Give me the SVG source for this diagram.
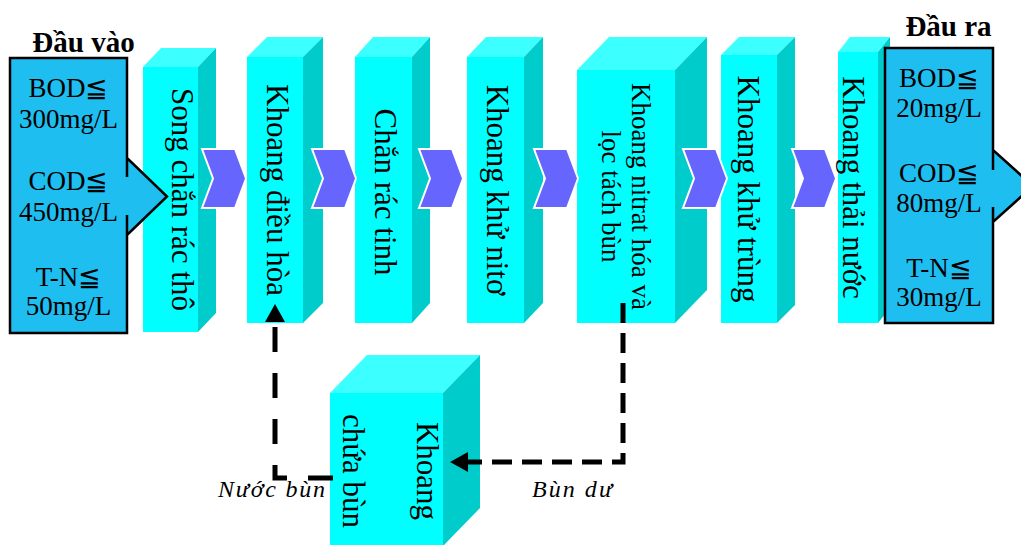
<svg xmlns="http://www.w3.org/2000/svg" width="1021" height="545" viewBox="0 0 1021 545">
<style>
.front{fill:#00FFFF}
.top{fill:#3CFFFF}
.side{fill:#00CCCC}
.vt{font-family:"Liberation Serif","Times New Roman",serif;font-size:31px;fill:#000;text-anchor:middle}
.vt27{font-family:"Liberation Serif","Times New Roman",serif;font-size:27px;fill:#000;text-anchor:middle}
.bt{font-family:"Liberation Serif","Times New Roman","DejaVu Serif",serif;font-size:27px;fill:#000;text-anchor:middle}
.title{font-family:"Liberation Serif","Times New Roman",serif;font-size:29px;font-weight:bold;fill:#000;text-anchor:middle}
.lbl{font-family:"Liberation Serif","Times New Roman",serif;font-size:24px;font-style:italic;fill:#000}
.io{fill:#1FBEF0;stroke:#000;stroke-width:2.5;stroke-linejoin:miter}
.chev{fill:#6666FF;stroke:#FFFFFF;stroke-width:2}
.dash1{fill:none;stroke:#000;stroke-width:5;stroke-dasharray:20 10}
.dash2{fill:none;stroke:#000;stroke-width:5;stroke-dasharray:25 21}
</style>
<defs>
<path id="chevron" class="chev" d="M0,0 H33 L44,29.5 L33,59 H0 L11,29.5 Z"/>
<marker id="ah" markerUnits="userSpaceOnUse" viewBox="0 0 18 20" refX="0" refY="10" markerWidth="18" markerHeight="20" orient="auto">
<path d="M0,0 L18,10 L0,20 Z" fill="#000"/>
</marker>
</defs>

<g id="song-chan-rac-tho">
<rect class="front" x="143" y="67" width="55" height="265"/>
<polygon class="top" points="143,67 161,48 216,48 198,67"/>
<polygon class="side" points="198,67 216,48 216,313 198,332"/>
<text class="vt" transform="translate(172,199.5) rotate(90)">Song chắn rác thô</text>
</g>

<g id="khoang-dieu-hoa">
<rect class="front" x="247" y="57" width="56" height="266"/>
<polygon class="top" points="247,57 267,37 323,37 303,57"/>
<polygon class="side" points="303,57 323,37 323,303 303,323"/>
<text class="vt" transform="translate(267,190) rotate(90)">Khoang điều hòa</text>
</g>

<g id="chan-rac-tinh">
<rect class="front" x="355" y="57" width="57" height="266"/>
<polygon class="top" points="355,57 373,37 430,37 412,57"/>
<polygon class="side" points="412,57 430,37 430,303 412,323"/>
<text class="vt" transform="translate(375,192) rotate(90)">Chắn rác tinh</text>
</g>

<g id="khoang-khu-nito">
<rect class="front" x="467" y="57" width="57" height="266"/>
<polygon class="top" points="467,57 486,37 543,37 524,57"/>
<polygon class="side" points="524,57 543,37 543,303 524,323"/>
<text class="vt" transform="translate(487,190) rotate(90)">Khoang khử nitơ</text>
</g>

<g id="khoang-nitrat-hoa">
<rect class="front" x="577" y="70" width="98" height="253"/>
<polygon class="top" points="577,70 609,37 707,37 675,70"/>
<polygon class="side" points="675,70 707,37 707,290 675,323"/>
<text class="vt27" transform="translate(632,196.5) rotate(90)">Khoang nitrat hóa và</text>
<text class="vt27" transform="translate(602,196.5) rotate(90)">lọc tách bùn</text>
</g>

<g id="khoang-khu-trung">
<rect class="front" x="721" y="55" width="56" height="268"/>
<polygon class="top" points="721,55 739,37 795,37 777,55"/>
<polygon class="side" points="777,55 795,37 795,305 777,323"/>
<text class="vt" transform="translate(738,189) rotate(90)">Khoang khử trùng</text>
</g>

<g id="khoang-thai-nuoc">
<rect class="front" x="838" y="52" width="40" height="271"/>
<polygon class="top" points="838,52 850,37 890,37 878,52"/>
<polygon class="side" points="878,52 890,37 890,308 878,323"/>
<text class="vt" transform="translate(843,187.5) rotate(90)">Khoang thải nước</text>
</g>

<g id="khoang-chua-bun">
<rect class="front" x="330" y="393" width="113" height="153"/>
<polygon class="top" points="330,393 367,355 480,355 443,393"/>
<polygon class="side" points="443,393 480,355 480,508 443,546"/>
<text class="vt" transform="translate(417,471) rotate(90)">Khoang</text>
<text class="vt" transform="translate(343,471) rotate(90)">chứa bùn</text>
</g>

<g id="connectors">
<use href="#chevron" x="202" y="149"/>
<use href="#chevron" x="312" y="149"/>
<use href="#chevron" x="419" y="149"/>
<use href="#chevron" x="534" y="149"/>
<use href="#chevron" x="683" y="149"/>
<use href="#chevron" x="792" y="149"/>
<path class="dash1" d="M623,303 V462 H468" marker-end="url(#ah)"/>
<path class="dash2" d="M333,478 H275 V322" marker-end="url(#ah)"/>
<text class="lbl" x="218" y="497" textLength="107" lengthAdjust="spacing">Nước bùn</text>
<text class="lbl" x="532" y="497" textLength="80" lengthAdjust="spacing">Bùn dư</text>
</g>

<g id="dau-vao">
<text class="title" x="83.5" y="52">Đầu vào</text>
<path class="io" d="M10,58 H127 V177 V158 L167,196.5 L127,235 V215 V333 H10 Z"/>
<text class="bt" x="68.5" y="97">BOD≦</text>
<text class="bt" x="68.5" y="128">300mg/L</text>
<text class="bt" x="68.5" y="190">COD≦</text>
<text class="bt" x="68.5" y="221">450mg/L</text>
<text class="bt" x="68.5" y="286">T-N≦</text>
<text class="bt" x="68.5" y="315">50mg/L</text>
</g>

<g id="dau-ra">
<text class="title" x="948.5" y="36">Đầu ra</text>
<path class="io" d="M885,48 H993 V170 V150 L1033,186 L993,222 V207 V323 H885 Z"/>
<text class="bt" x="939" y="87">BOD≦</text>
<text class="bt" x="939" y="117">20mg/L</text>
<text class="bt" x="939" y="182">COD≦</text>
<text class="bt" x="939" y="212">80mg/L</text>
<text class="bt" x="939" y="277">T-N≦</text>
<text class="bt" x="939" y="306">30mg/L</text>
</g>
</svg>
